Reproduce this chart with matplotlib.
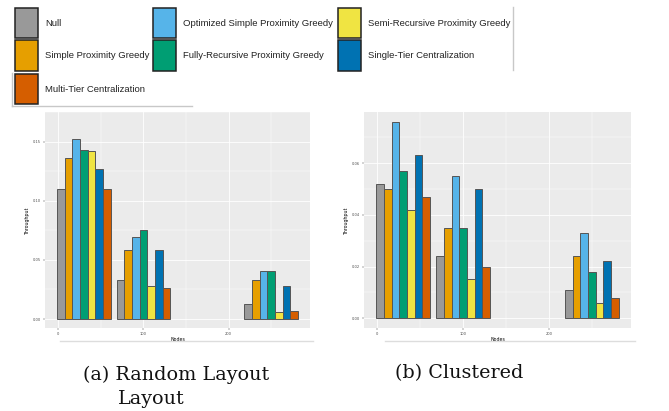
import numpy as np
import matplotlib.pyplot as plt
from matplotlib.patches import Rectangle
from matplotlib.lines import Line2D

# data
nodes = [30, 100, 250]
methods = ["Null", "Simple Proximity Greedy", "Optimized Simple Proximity Greedy",
           "Fully-Recursive Proximity Greedy", "Semi-Recursive Proximity Greedy",
           "Single-Tier Centralization", "Multi-Tier Centralization"]
colors = ["#999999", "#E69F00", "#56B4E9", "#009E73", "#F0E442", "#0072B2", "#D55E00"]

random_tp = [
    [0.110, 0.033, 0.013],   # Null
    [0.136, 0.058, 0.033],   # Simple Proximity Greedy
    [0.152, 0.069, 0.041],   # Optimized Simple Proximity Greedy
    [0.143, 0.075, 0.041],   # Fully-Recursive Proximity Greedy
    [0.142, 0.028, 0.006],   # Semi-Recursive Proximity Greedy
    [0.127, 0.058, 0.028],   # Single-Tier Centralization
    [0.110, 0.026, 0.007],   # Multi-Tier Centralization
]
clustered_tp = [
    [0.052, 0.024, 0.011],
    [0.050, 0.035, 0.024],
    [0.076, 0.055, 0.033],
    [0.057, 0.035, 0.018],
    [0.042, 0.015, 0.006],
    [0.063, 0.050, 0.022],
    [0.047, 0.020, 0.008],
]
random_yticks = [0.00, 0.05, 0.10, 0.15]
clustered_yticks = [0.00, 0.02, 0.04, 0.06]
xticks = [0, 100, 200]

W, H = 669, 411
fig = plt.figure(figsize=(W / 100, H / 100), dpi=100)
fig.patch.set_facecolor("white")


def px_axes(x0, y0, x1, y1):
    return fig.add_axes([x0 / W, 1 - y1 / H, (x1 - x0) / W, (y1 - y0) / H])


def gg_bars(ax, data, yticks):
    n = len(data)
    bw = 0.9 * 70 / n
    for i, vals in enumerate(data):
        xs = np.array(nodes) + (i - (n - 1) / 2) * bw
        ax.bar(xs, vals, width=bw, color=colors[i], edgecolor="#555555",
               linewidth=0.7, zorder=3)
    ymax = max(max(v) for v in data)
    ax.set_ylim(-0.05 * ymax, 1.05 * ymax)
    xmin, xmax = nodes[0] - 31.5, nodes[-1] + 31.5
    pad = 0.05 * (xmax - xmin)
    ax.set_xlim(xmin - pad, xmax + pad)
    ax.set_facecolor("#EBEBEB")
    for s in ax.spines.values():
        s.set_visible(False)
    ax.set_xticks(xticks)
    ax.set_xticks([50, 150, 250], minor=True)
    ax.set_yticks(yticks)
    step = yticks[1] - yticks[0]
    ax.set_yticks([t + step / 2 for t in yticks], minor=True)
    ax.set_xticklabels([str(t) for t in xticks])
    ax.set_yticklabels(["%.2f" % t for t in yticks])
    ax.grid(which="major", color="white", linewidth=0.6, zorder=0)
    ax.grid(which="minor", color="white", linewidth=0.3, zorder=0)
    ax.set_axisbelow(True)
    ax.tick_params(which="major", length=1.2, width=0.3, color="#333333",
                   labelsize=2.6, labelcolor="#4D4D4D", pad=1.5)
    ax.tick_params(which="minor", length=0)
    ax.set_xlabel("Nodes", fontsize=3.4, labelpad=1)
    ax.set_ylabel("Throughput", fontsize=3.4, labelpad=2)


ax1 = px_axes(45, 112, 310, 328)
gg_bars(ax1, random_tp, random_yticks)
ax2 = px_axes(364, 112, 631, 328)
gg_bars(ax2, clustered_tp, clustered_yticks)

# legend drawn in pixel positions: method index -> (column, row)
col_x = [15, 153, 338]
row_y = [8, 40.5, 74]
slots = {0: (0, 0), 1: (0, 1), 6: (0, 2), 2: (1, 0), 3: (1, 1), 4: (2, 0), 5: (2, 1)}
for i, name in enumerate(methods):
    c, r = slots[i]
    x, y = col_x[c], row_y[r]
    fig.patches.append(Rectangle((x / W, 1 - (y + 30) / H), 23 / W, 30 / H,
                                 transform=fig.transFigure, facecolor=colors[i],
                                 edgecolor="#222222", linewidth=1.1))
    fig.text((x + 30) / W, 1 - (y + 15) / H, name, fontsize=6.8,
             family="Liberation Sans", ha="left", va="center", color="#222222")

frame = "#C8C8C8"
fig.lines.append(Line2D([12 / W, 12 / W], [1 - 73 / H, 1 - 106 / H],
                        transform=fig.transFigure, color=frame, linewidth=1))
fig.lines.append(Line2D([12 / W, 192 / W], [1 - 106 / H, 1 - 106 / H],
                        transform=fig.transFigure, color=frame, linewidth=1))
fig.lines.append(Line2D([513 / W, 513 / W], [1 - 7 / H, 1 - 70 / H],
                        transform=fig.transFigure, color=frame, linewidth=1))
fig.lines.append(Line2D([60 / W, 313 / W], [1 - 341 / H, 1 - 341 / H],
                        transform=fig.transFigure, color="#DDDDDD", linewidth=1))
fig.lines.append(Line2D([385 / W, 635 / W], [1 - 341 / H, 1 - 341 / H],
                        transform=fig.transFigure, color="#DDDDDD", linewidth=1))

# captions
cap = dict(fontsize=13.8, family="DejaVu Serif", color="#111111", va="center")
fig.text(83 / W, 1 - 375 / H, "(a) Random Layout", ha="left", **cap)
fig.text(118 / W, 1 - 399 / H, "Layout", ha="left", **cap)
fig.text(395 / W, 1 - 373 / H, "(b) Clustered", ha="left", **cap)

fig.savefig("out.png", dpi=100)
